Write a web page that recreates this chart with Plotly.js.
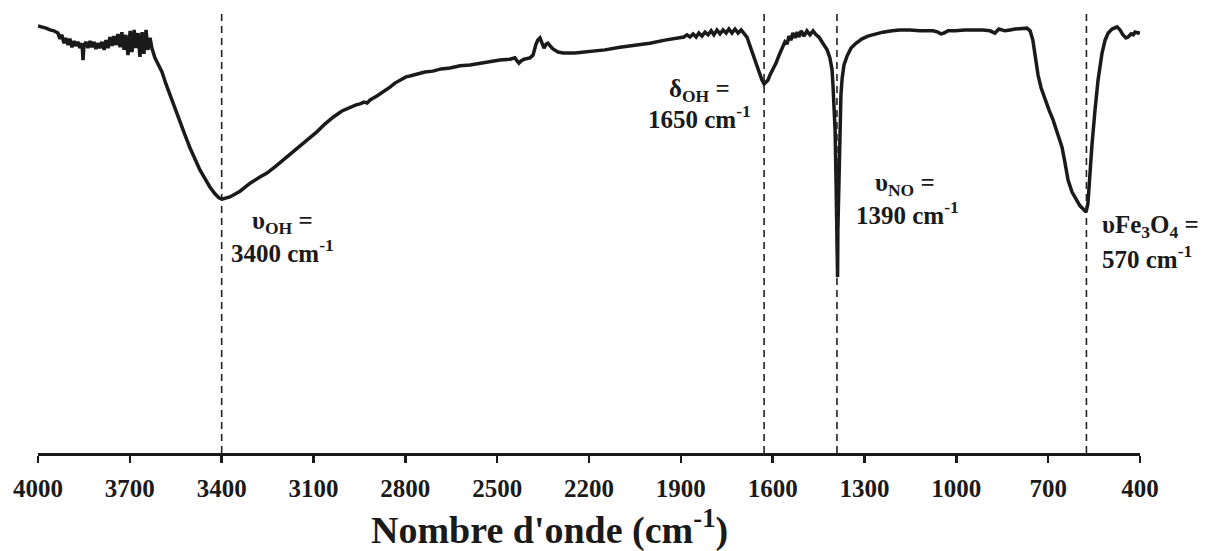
<!DOCTYPE html>
<html>
<head>
<meta charset="utf-8">
<script src="https://cdn.plot.ly/plotly-3.0.1.min.js"></script>
<style>html,body{margin:0;padding:0;background:#fff;}#chart{width:1210px;height:551px;}</style>
</head>
<body>
<div id="chart"></div>
<script>
// FTIR spectrum: wavenumber (cm-1) and transmittance (%)
const wavenumber = [
4000,3987,3974,3961,3948,3935,3928,3922,3915,3909,3902,3896,3889,3882,3876,3869,3863,3856,3853,3850,
3843,3837,3830,3824,3817,3811,3804,3798,3791,3784,3778,3771,3765,3758,3752,3745,3739,3732,3726,3719,
3713,3706,3699,3693,3686,3680,3673,3667,3660,3654,3647,3641,3634,3628,3618,3608,
3595,3582,3569,3552,3536,3520,3503,3487,3471,3454,3438,3422,3409,3399,3386,3373,3340,3307,3275,3252,
3226,3200,3177,3144,3118,3089,3062,3036,3007,2981,2961,2948,2935,2925,2915,2893,2873,2850,2834,2817,
2808,2798,2785,2762,2736,2710,2683,2654,2621,2589,2556,2523,2491,2458,2442,2435,2429,2422,2412,2393,
2383,2373,2367,2360,2354,2347,2340,2334,2327,2318,2301,2285,2246,2197,2148,2099,2050,2001,1952,1912,
1890,1880,1870,1860,1850,1841,1831,1821,1811,1801,1792,1782,1772,1762,1752,1743,1733,1723,1713,1703,
1694,1684,1674,1664,1654,1645,1635,1628,1622,1615,1609,1599,1589,1579,1569,1560,1553,1547,1540,1534,
1527,1520,1514,1507,1498,1488,1478,1468,1458,1449,1436,1422,1413,1406,1403,1400,1396,1393,1390,1388,
1387,1383,1380,1377,1373,1367,1357,1344,1328,1308,1289,1266,1240,1210,1184,1151,1119,1076,1060,1050,
1040,1027,1004,972,939,913,890,874,861,841,825,808,769,759,750,743,733,723,710,697,
684,671,655,645,635,622,606,596,583,576,570,563,557,547,537,524,514,504,491,475,
465,456,446,439,429,422,416,406,400
];
const transmittance = [
96.4,96.2,95.9,95.5,95.3,94.8,93.5,94.4,92.5,93.7,92.1,93.5,91.6,93.0,91.9,92.8,91.4,92.5,88.7,91.9,
92.8,91.4,93.0,91.6,92.8,91.2,92.5,91.4,92.8,91.0,93.2,91.4,93.9,91.9,94.1,92.1,94.6,91.6,95.0,91.0,
94.4,89.8,95.3,90.5,95.5,91.4,94.8,89.4,95.0,90.1,95.5,91.0,93.7,91.4,89.2,87.8,
86.0,83.3,80.8,77.7,74.7,71.8,68.8,66.1,63.9,61.9,60.0,58.5,57.6,57.3,57.6,57.8,59.1,60.9,62.3,63.2,
64.6,66.1,67.3,69.1,70.7,72.5,74.3,75.8,77.2,78.1,78.6,78.8,79.2,79.0,79.7,80.6,81.5,82.6,83.5,84.2,
84.4,84.9,85.1,85.6,86.0,86.2,86.7,86.9,87.4,87.6,88.0,88.3,88.7,88.9,89.2,88.5,88.0,88.5,88.9,89.2,
89.8,92.3,93.2,93.7,92.8,91.4,92.3,92.5,91.9,91.2,90.5,90.3,90.3,90.7,91.0,91.6,92.1,92.5,93.2,93.7,
93.9,94.4,93.9,94.6,93.9,94.8,94.1,95.0,94.4,95.3,94.4,95.5,94.6,95.5,94.8,95.7,94.8,95.7,94.8,95.5,
94.6,93.9,91.9,89.8,87.8,85.8,84.2,83.3,83.7,84.2,85.3,86.5,88.0,89.8,91.4,92.8,92.3,94.1,93.2,94.8,
93.7,95.0,93.9,95.3,94.1,95.3,94.4,95.3,94.4,93.9,92.5,91.0,89.2,86.5,83.1,78.6,72.9,61.6,50.3,39.7,
50.3,63.9,75.2,80.8,84.6,87.6,89.6,91.4,92.5,93.5,94.1,94.6,95.0,95.3,95.5,95.5,95.3,95.3,95.0,94.6,
94.8,95.3,95.3,95.5,95.5,95.5,95.3,94.8,95.7,95.3,95.5,95.7,95.9,95.3,93.2,89.8,85.3,82.4,79.7,77.4,
75.2,72.5,69.1,65.5,61.6,58.9,57.1,55.8,54.9,54.4,56.4,63.9,69.5,77.4,84.2,90.3,93.2,94.8,95.7,96.2,
95.5,94.4,93.7,93.9,94.6,94.4,95.0,94.8,95.0
];
// band positions (dashed markers) and labels
const bandPositions = [3400, 1628, 1390, 575];
const xTickValues = [4000, 3700, 3400, 3100, 2800, 2500, 2200, 1900, 1600, 1300, 1000, 700, 400];
const labelTexts = [
  "υ<sub>OH</sub> =", "3400 cm<sup>-1</sup>",
  "δ<sub>OH</sub> =", "1650 cm<sup>-1</sup>",
  "υ<sub>NO</sub> =", "1390 cm<sup>-1</sup>",
  "υFe<sub>3</sub>O<sub>4</sub> =", "570 cm<sup>-1</sup>"
];
const labelX = [0.2223, 0.2223, 0.6007, 0.6007, 0.7868, 0.7886, 1.0091, 1.0064];
const labelY = [0.5214, 0.4560, 0.8194, 0.7585, 0.6050, 0.5418, 0.5102, 0.4424];

const FONT = "Liberation Serif";

const trace = {
  x: wavenumber, y: transmittance, type: 'scatter', mode: 'lines',
  line: {color: '#1a1a1a', width: 3.5}, hoverinfo: 'skip'
};

const shapes = bandPositions.map(b => ({
  type: 'line', xref: 'x', yref: 'paper', x0: b, x1: b, y0: 0, y1: 1,
  line: {color: '#222', width: 1.6, dash: '7px,5px'}
}));

const annotations = labelTexts.map((t, i) => ({
  text: '<b>' + t + '</b>', xref: 'paper', yref: 'paper', x: labelX[i], y: labelY[i],
  xanchor: 'center', yanchor: 'middle', showarrow: false,
  font: {family: FONT, size: 25, color: '#1a1a1a'}
}));
annotations.push({
  text: "<b>Nombre d'onde (cm<sup>-1</sup>)</b>", xref: 'paper', yref: 'paper',
  x: 0.4646, y: -0.169, xanchor: 'center', yanchor: 'middle', showarrow: false,
  font: {family: FONT, size: 38, color: '#1a1a1a'}
});

const layout = {
  width: 1210, height: 551,
  margin: {l: 38, r: 70, t: 10, b: 98},
  paper_bgcolor: '#fff', plot_bgcolor: '#fff',
  showlegend: false,
  xaxis: {
    range: [4000, 400], tickvals: xTickValues, ticktext: xTickValues.map(v => '<b>' + v + '</b>'),
    showline: true, linecolor: '#1a1a1a', linewidth: 3,
    ticks: 'outside', ticklen: 7, tickwidth: 2.5, tickcolor: '#1a1a1a',
    ticklabelstandoff: 4,
    showgrid: false, zeroline: false,
    tickfont: {family: FONT, size: 25, color: '#1a1a1a'}
  },
  yaxis: {range: [0, 100], visible: false, showgrid: false, zeroline: false},
  shapes: shapes,
  annotations: annotations
};

Plotly.newPlot('chart', [trace], layout, {displayModeBar: false, staticPlot: true});
</script>
</body>
</html>
